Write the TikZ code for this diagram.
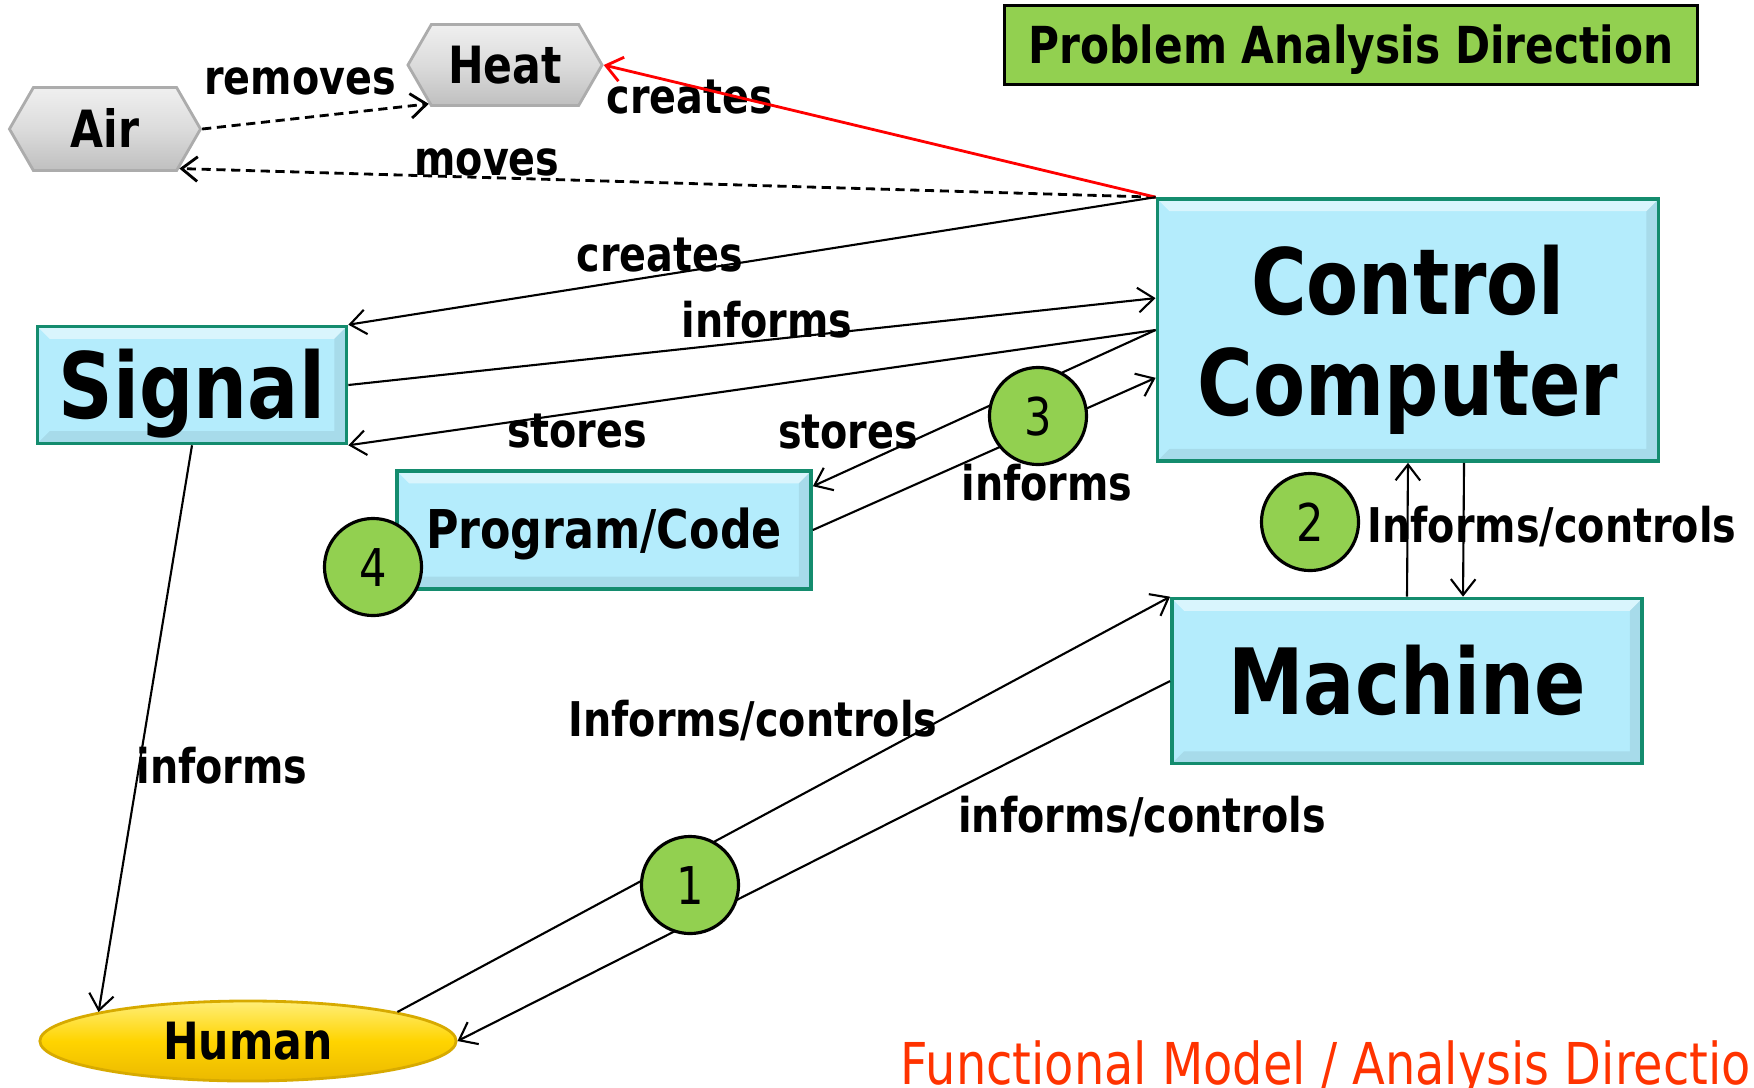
\documentclass[tikz,border=0pt]{standalone}
\usepackage{fontspec}
\setmainfont{DejaVu Sans}[FakeStretch=0.83]
\usetikzlibrary{shapes.symbols,shapes.geometric,arrows.meta,calc}

\definecolor{boxfill}{RGB}{180,236,252}
\definecolor{boxedge}{RGB}{20,140,110}
\definecolor{leaf}{RGB}{146,208,80}
\definecolor{gold}{RGB}{255,212,0}
\definecolor{goldedge}{RGB}{215,170,0}
\definecolor{notered}{RGB}{255,51,0}

\tikzset{
  % light top rim, darker right/bottom rim
  bevel/.style={path picture={
      \fill[white,opacity=.5] (path picture bounding box.north west) -- (path picture bounding box.north east)
        -- ([shift={(-#1,-#1)}]path picture bounding box.north east) -- ([shift={(#1,-#1)}]path picture bounding box.north west) -- cycle;
      \fill[black,opacity=.07] (path picture bounding box.south west) -- (path picture bounding box.south east)
        -- (path picture bounding box.north east) -- ([shift={(-#1,-#1)}]path picture bounding box.north east)
        -- ([shift={(-#1,#1)}]path picture bounding box.south east) -- ([shift={(#1,#1)}]path picture bounding box.south west) -- cycle;
  }},
  block/.style={rectangle, fill=boxfill, draw=boxedge, line width=1pt, inner sep=0pt, bevel=3.5pt},
  bigtext/.style={font=\bfseries\fontsize{26}{28.6}\selectfont, text height=19pt, text depth=0pt},
  midtext/.style={font=\bfseries\fontsize{14.6}{16}\selectfont, text height=10.6pt, text depth=0pt},
  hexbox/.style={signal, signal to=east and west, signal pointer angle=120, inner sep=0pt,
    top color=gray!12, bottom color=gray!50, middle color=gray!28, draw=gray!65, line width=0.8pt, midtext},
  human/.style={ellipse, inner sep=0pt, top color={rgb,255:red,255;green,238;blue,120}, bottom color={rgb,255:red,235;green,185;blue,0},
    middle color=gold, draw=goldedge, line width=0.8pt, midtext},
  banner/.style={rectangle, fill=leaf, draw=black, line width=0.9pt, inner sep=0pt,
    font=\bfseries\fontsize{14.5}{16}\selectfont, text height=10.6pt, text depth=0pt},
  marker/.style={circle, fill=leaf, draw=black, line width=0.9pt, inner sep=0pt, minimum size=0.97cm,
    font=\fontsize{14.8}{16}\selectfont, text height=10.8pt, text depth=0pt},
  lbl/.style={inner sep=0pt, font=\bfseries\fontsize{13.6}{15}\selectfont},
  flow/.style={->, line width=0.6pt},
  cue/.style={->, line width=0.8pt, dash pattern=on 2.6pt off 1.6pt},
}

\begin{document}
\begin{tikzpicture}[x=0.01cm, y=-0.01cm, >={Straight Barb[length=4.5pt,width=7pt]}]
  \useasboundingbox (0,0) rectangle (1754,1087);

  % surroundings
  \node[hexbox, minimum width=1.91cm, minimum height=0.83cm] (air) at (105,129) {Air};
  \node[hexbox, minimum width=1.94cm, minimum height=0.81cm] (heat) at (505,65) {Heat};
  \node[banner, minimum width=6.93cm, minimum height=0.79cm] (title) at (1351,45) {Problem Analysis Direction};

  % main blocks
  \node[block, font=\bfseries\fontsize{26}{28.6}\selectfont, align=center, text depth=0pt, minimum width=5.01cm, minimum height=2.62cm] (cc) at (1408,330) {Control\\Computer};
  \node[block, bigtext, minimum width=3.09cm, minimum height=1.17cm] (signal) at (192,385) {Signal};
  \node[block, midtext, font=\bfseries\fontsize{15.2}{17}\selectfont, minimum width=4.14cm, minimum height=1.18cm] (prog) at (604,530) {Program/Code};
  \node[block, bigtext, minimum width=4.70cm, minimum height=1.65cm] (machine) at (1407,681) {Machine};
  \node[human, minimum width=4.16cm, minimum height=0.80cm] (human) at (248,1041) {Human};

  % labels
  \node[lbl] (l-removes) at (300,81) {removes};
  \node[lbl] (l-moves) at (487,162) {moves};
  \node[lbl] (l-heat) at (690,97) {creates};
  \node[lbl] (l-creates) at (660,255) {creates};
  \node[lbl] (l-informs) at (767,320) {informs};
  \node[lbl] (l-stores) at (577,431) {stores};
  \node[lbl] (l-keeps) at (848,432) {stores};
  \node[lbl] (l-reads) at (1047,483) {informs};
  \node[lbl] (l-mc) at (1552,527) {Informs/controls};
  \node[lbl] (l-hm) at (753,721) {Informs/controls};
  \node[lbl] (l-mh) at (1142,817) {informs/controls};
  \node[lbl] (l-sh) at (222,766) {informs};

  % connectors
  \draw[cue] (air.east) -- (heat.207);
  \draw[cue] (cc.north west) -- (air.-28);
  \draw[flow, red, line width=0.8pt] (cc.north west) -- (heat.east);
  \draw[flow] (cc.north west) -- (signal.north east);
  \draw[flow] (signal.east) -- ($(cc.north west)!0.38!(cc.south west)$);
  \draw[flow] (cc.west) -- (signal.south east);
  \draw[flow] (cc.west) -- ($(prog.north east)!0.14!(prog.south east)$);
  \draw[flow] (prog.east) -- ($(cc.north west)!0.68!(cc.south west)$);
  \draw[flow] (machine.north) -- (cc.south);
  \draw[flow] ([xshift=0.56cm]cc.south) -- ([xshift=0.56cm]machine.north);
  \draw[flow] (human.11) -- (machine.north west);
  \draw[flow] (machine.west) -- (human.east);
  \draw[flow] (signal.south) -- (human.169);

  % numbered steps
  \node[marker] (m1) at (690,885) {1};
  \node[marker] (m2) at (1310,522) {2};
  \node[marker] (m3) at (1038,416) {3};
  \node[marker] (m4) at (373,567) {4};

  \node[anchor=base west, inner sep=0pt, text=notered, font=\fontsize{16.4}{18}\selectfont] (caption) at (900,1084) {Functional Model / Analysis Direction};
\end{tikzpicture}
\end{document}
